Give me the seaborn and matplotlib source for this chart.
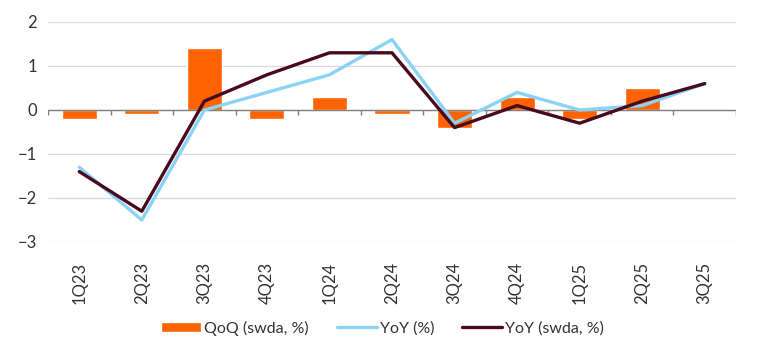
import numpy as np
import pandas as pd
import seaborn as sns
import matplotlib.pyplot as plt
from matplotlib.patches import Patch
from matplotlib.lines import Line2D

# quarters and the three series
quarters = ["1Q23", "2Q23", "3Q23", "4Q23", "1Q24", "2Q24", "3Q24", "4Q24", "1Q25", "2Q25", "3Q25"]
qoq_swda = [-0.2, -0.1, 1.4, -0.2, 0.3, -0.1, -0.4, 0.3, -0.2, 0.5, np.nan]
yoy = [-1.3, -2.5, 0.0, 0.4, 0.8, 1.6, -0.3, 0.4, 0.0, 0.1, 0.6]
yoy_swda = [-1.4, -2.3, 0.2, 0.8, 1.3, 1.3, -0.4, 0.1, -0.3, 0.2, 0.6]

orange = "#FF6200"
light_blue = "#8AD3F5"
dark = "#4A0A1E"

df = pd.DataFrame({"quarter": quarters, "qoq": qoq_swda, "yoy": yoy, "yoy_swda": yoy_swda})
df["pos"] = np.arange(len(df))

sns.set_style("white")
plt.rcParams["font.family"] = ["Lato", "DejaVu Sans"]

fig = plt.figure(figsize=(7.59, 3.58), dpi=100)
ax = fig.add_axes([48 / 759, 1 - 242 / 358, 688 / 759, 220 / 358])

# bars
sns.barplot(data=df, x="quarter", y="qoq", color=orange, width=0.56, saturation=1, ax=ax)

# lines
sns.lineplot(data=df, x="pos", y="yoy", color=light_blue, linewidth=2.4, ax=ax)
sns.lineplot(data=df, x="pos", y="yoy_swda", color=dark, linewidth=2.4, ax=ax)

ax.set_xlim(-0.5, len(quarters) - 0.5)
ax.set_ylim(-3, 2)
ax.set_yticks([-3, -2, -1, 0, 1, 2])
ax.set_xticks(df["pos"])
ax.set_xticklabels(quarters, rotation=90)
ax.grid(axis="y", color="#D9D9D9", linewidth=0.9)
ax.set_axisbelow(True)
for s in ax.spines.values():
    s.set_visible(False)

# zero line with small category boundary ticks
ax.axhline(0, color="#808080", linewidth=1, zorder=1.5)
ax.vlines(np.arange(len(quarters) + 1) - 0.5, -0.12, 0, color="#808080", linewidth=1, zorder=1.5)

ax.tick_params(axis="both", length=0, labelsize=12, colors="#333333", pad=8)
ax.tick_params(axis="x", pad=14)
ax.set_xlabel("")
ax.set_ylabel("")

handles = [
    Patch(facecolor=orange, label="QoQ (swda, %)"),
    Line2D([0], [0], color=light_blue, linewidth=2.4, label="YoY (%)"),
    Line2D([0], [0], color=dark, linewidth=2.4, label="YoY (swda, %)"),
]
fig.legend(handles=handles, loc="center", bbox_to_anchor=(0.504, 1 - 328 / 358), ncol=3,
           frameon=False, fontsize=11.5, handlelength=2.5, handleheight=0.62,
           handletextpad=0.2, columnspacing=1.75, labelcolor="#333333")

fig.savefig("out.png", dpi=100)
